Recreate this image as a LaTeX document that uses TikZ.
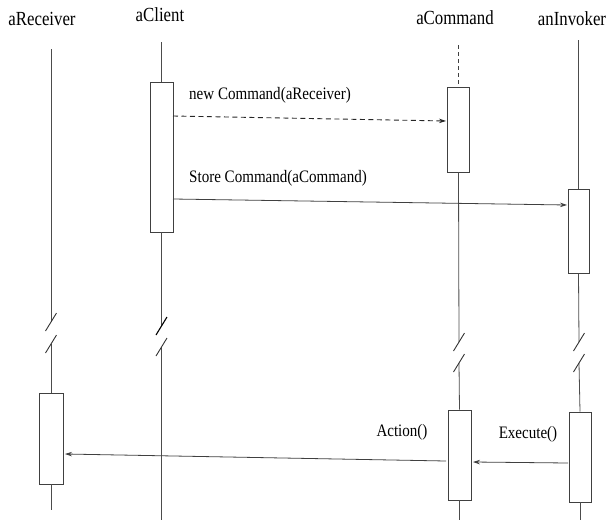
\documentclass[tikz,border=0pt]{standalone}
\usepackage{fontspec}
\setmainfont{Liberation Serif}
\usetikzlibrary{arrows.meta,calc}
\newcommand{\narrowtext}[2][0.86]{\scalebox{#1}[1]{#2}}
\begin{document}
\begin{tikzpicture}[x=1pt,y=-1pt,
  life/.style={draw=black!70, line width=0.8pt},
  dlife/.style={draw=black!75, line width=0.9pt, dash pattern=on 4pt off 3pt},
  act/.style={draw=black!75, line width=0.8pt, fill=white, rectangle, inner sep=0pt},
  msg/.style={draw=black!75, line width=0.8pt, -{Stealth[length=7pt,width=4.5pt]}},
  dmsg/.style={msg, draw=black!85, line width=0.9pt, dash pattern=on 5pt off 3.5pt},
  title/.style={font=\fontsize{20}{24}\selectfont, inner sep=0pt},
  lbl/.style={font=\fontsize{17.5}{21}\selectfont, inner sep=0pt},
  brk/.style={draw=black!80, line width=0.9pt}]
\useasboundingbox (0,0) rectangle (608,525);

% titles
\node[title] (tR) at (42,19) {\narrowtext[0.84]{aReceiver}};
\node[title] (tC) at (160,15) {\narrowtext[0.84]{aClient}};
\node[title] (tM) at (455,18) {\narrowtext[0.84]{aCommand}};
\node[title] (tI) at (572,19) {\narrowtext[0.84]{anInvoker}};

% activation boxes
\node[act, minimum width=23pt, minimum height=150pt] (bC) at (161.5,157) {};
\node[act, minimum width=22pt, minimum height=85pt] (bM1) at (458.5,129.5) {};
\node[act, minimum width=21pt, minimum height=84pt] (bI1) at (578.5,231) {};
\node[act, minimum width=24pt, minimum height=91pt] (bR) at (51,438.5) {};
\node[act, minimum width=23pt, minimum height=90pt] (bM2) at (459.5,455) {};
\node[act, minimum width=22pt, minimum height=90pt] (bI2) at (580,457) {};

% lifeline coordinates
\coordinate (R0) at (51,49);   \coordinate (R1) at (51,322); \coordinate (R2) at (51,344); \coordinate (R3) at (51,510);
\coordinate (C0) at (161.5,42); \coordinate (C1) at (161.5,326); \coordinate (C2) at (161.5,347); \coordinate (C3) at (161.5,520);
\coordinate (M0) at (458.5,45); \coordinate (M1) at (459,342); \coordinate (M2) at (459,363); \coordinate (M3) at (459.5,520);
\coordinate (I0) at (578.5,40); \coordinate (I1) at (579,342); \coordinate (I2) at (579,363); \coordinate (I3) at (580,520);

% aReceiver
\draw[life] (R0) -- (R1);
\draw[life] (R2) -- (bR.north);
\draw[life] (bR.south) -- (R3);
% aClient
\draw[life] (C0) -- (bC.north);
\draw[life] (bC.south) -- (C1);
\draw[life] (C2) -- (C3);
% aCommand
\draw[dlife] (M0) -- (bM1.north);
\draw[life] (bM1.south) -- (M1);
\draw[life] (M2) -- (bM2.north);
\draw[life] (bM2.south) -- (M3);
% anInvoker
\draw[life] (I0) -- (bI1.north);
\draw[life] (bI1.south) -- (I1);
\draw[life] (I2) -- (bI2.north);
\draw[life] (bI2.south) -- (I3);

% break marks
\foreach \p in {R1,R2,C2,M1,M2,I1,I2}{
  \draw[brk] ($(\p)+(-5.5,9)$) -- ($(\p)+(5.5,-9)$);
}
\draw[brk, draw=black, line width=1.1pt] ($(C1)+(-5.5,9)$) -- ($(C1)+(5.5,-9)$);

% messages
\coordinate (n0) at (173,116); \coordinate (n1) at (446,121);
\draw[dmsg] (n0) -- (n1);
\node[lbl, anchor=west] (ln) at (189,95) {\narrowtext{new Command(aReceiver)}};

\coordinate (s0) at (173,199); \coordinate (s1) at (567,205);
\draw[msg] (s0) -- (s1);
\node[lbl, anchor=west] (ls) at (189,178) {\narrowtext{Store Command(aCommand)}};

\coordinate (e0) at (568,463); \coordinate (e1) at (473,462);
\draw[msg] (e0) -- (e1);
\node[lbl] (le) at (528,434) {\narrowtext{Execute()}};

\coordinate (a0) at (446,461); \coordinate (a1) at (65,454);
\draw[msg] (a0) -- (a1);
\node[lbl] (la) at (402,432) {\narrowtext{Action()}};
\end{tikzpicture}
\end{document}
